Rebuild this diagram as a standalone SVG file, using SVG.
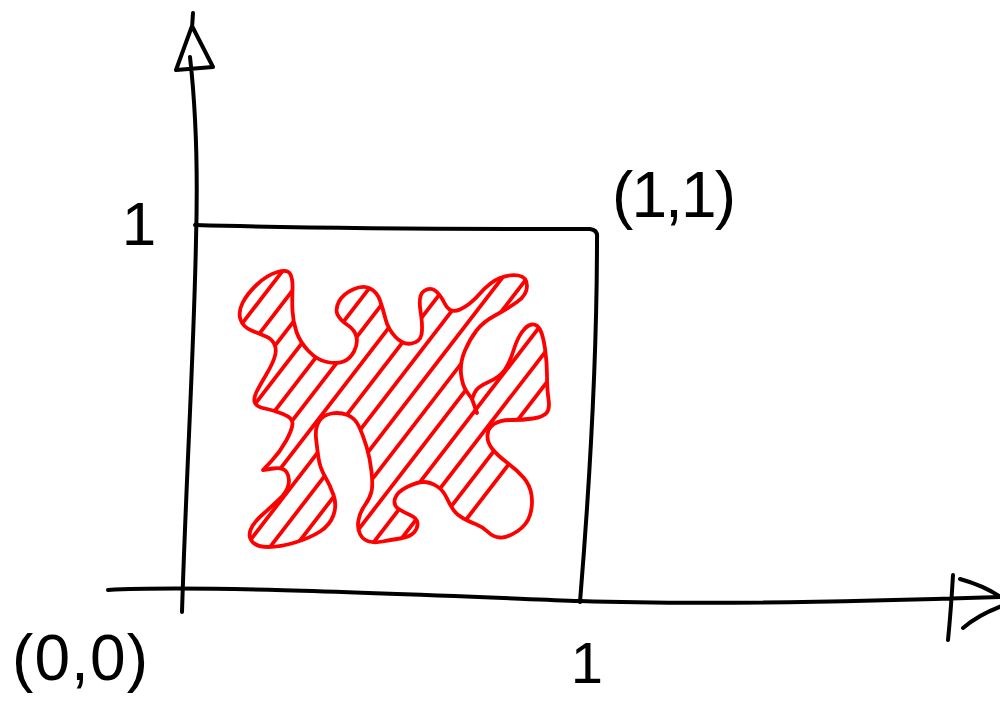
<svg xmlns="http://www.w3.org/2000/svg" xmlns:xlink="http://www.w3.org/1999/xlink" width="1000" height="705" viewBox="0 0 1000 705">
  <style>
    .ink { fill: none; stroke: #000; stroke-width: 4; stroke-linecap: round; stroke-linejoin: round; }
    .red { fill: none; stroke: #ff0000; stroke-width: 3.8; stroke-linecap: round; stroke-linejoin: round; }
    .lbl { font-family: "Liberation Sans", Arial, sans-serif; fill: #000; }
  </style>
  <defs>
    <path id="blob" d="M277.5,272 Q288,269 290.5,274.5 Q293,280 292.5,290 Q292,300 292.5,311 Q293,322 296.5,332 Q300,342 308.5,351 Q317,360 327,362 Q337,364 343.5,361.5 Q350,359 354,351.5 Q358,344 356.5,337 Q355,330 347.5,325 Q340,320 337.5,314.5 Q335,309 339,301.5 Q343,294 353,289.5 Q363,285 370,288.5 Q377,292 380,300.5 Q383,309 385.5,319 Q388,329 395.5,337 Q403,345 411.5,343.5 Q420,342 421.5,334.5 Q423,327 420.5,311 Q418,295 424,291 Q430,287 435,290.5 Q440,294 445,304 Q450,314 460,309.5 Q470,305 480,293.5 Q490,282 500,278 Q510,274 518.5,275.5 Q527,277 527,286 Q527,295 517,302 Q507,309 495,315.5 Q483,322 476.5,330.5 Q470,339 465,350.5 Q460,362 461,373.5 Q462,385 467,392 L472,399 L474.5,393 Q477,387 488.5,382 Q500,377 505,369.5 Q510,362 513.5,350.5 Q517,339 522,332 Q527,325 532,324.5 Q537,324 540,329.5 Q543,335 545,348.5 Q547,362 547,375.5 Q547,389 548.5,399 Q550,409 546.5,413 Q543,417 533,418.5 Q523,420 511.5,420 Q500,420 494,424 Q488,428 487.5,435 Q487,442 492,448.5 Q497,455 507,462.5 Q517,470 523.5,477.5 Q530,485 531.5,495 Q533,505 530,515 Q527,525 517,531.5 Q507,538 500,537.5 Q493,537 488,532 Q483,527 476.5,524.5 Q470,522 463.5,518.5 Q457,515 453.5,510 Q450,505 446.5,497.5 Q443,490 436.5,486 Q430,482 423.5,482 Q417,482 407,487 Q397,492 395,498.5 Q393,505 398,508.5 Q403,512 410,515 Q417,518 417.5,523 Q418,528 414,532.5 Q410,537 400,538.5 Q390,540 382.5,541.5 Q375,543 369,541.5 Q363,540 360,534 Q357,528 358.5,520 Q360,512 365,505 Q370,498 371.5,491.5 Q373,485 371.5,471.5 Q370,458 366.5,446.5 Q363,435 359,426.5 Q355,418 347.5,415 Q340,412 331.5,413.5 Q323,415 319,421.5 Q315,428 316,438 Q317,448 318.5,458 Q320,468 325,476.5 Q330,485 333.5,495 Q337,505 333.5,515 Q330,525 320,531.5 Q310,538 295,542.5 Q280,547 268.5,547 Q257,547 252.5,542 Q248,537 250.5,530 Q253,523 261.5,515.5 Q270,508 278.5,500 Q287,492 288.5,484.5 Q290,477 286.5,472 Q283,467 273,468.5 L263,470 L271.5,461 Q280,452 286,441 Q292,430 292.5,424 Q293,418 283,414 Q273,410 265,408.5 Q257,407 255,403 Q253,399 256.5,392 Q260,385 266,375 Q272,365 274.5,357.5 Q277,350 274.5,344.5 Q272,339 266,336.5 Q260,334 251.5,330.5 Q243,327 240.5,319.5 Q238,312 242.5,303 Q247,294 257,284.5 Q267,275 277.5,272 Z"/>
    <clipPath id="blobClip">
      <use xlink:href="#blob"/>
    </clipPath>
  </defs>

  <g id="axes">
    <path id="y-axis" class="ink" d="M193,13 L192,28 M192,26 L176,70 L213,67 L192,26 M190,57 C196,110 198,170 196,240 C194,350 186,480 182,612"/>
    <path id="x-axis" class="ink" d="M108,590 C200,585 400,594 580,601 C700,605 850,602 1000,597 M953,575 Q951,610 948,640 M960,579 Q985,586 1002,598 M1002,606 Q978,615 963,628"/>
  </g>

  <g id="square">
    <path class="ink" d="M195,225 C300,228 450,229 590,229 Q598,230 597,238 C597,350 590,480 580,602"/>
  </g>

  <g id="region">
    <g class="red" clip-path="url(#blobClip)">
      <path d="M35,560 L266,260 M60,560 L291,260 M85,560 L316,260 M110,560 L341,260 M135,560 L366,260 M160,560 L391,260 M185,560 L416,260 M210,560 L441,260 M235,560 L466,260 M260,560 L491,260 M285,560 L516,260 M310,560 L541,260 M335,560 L566,260 M360,560 L591,260 M385,560 L616,260 M410,560 L641,260 M435,560 L666,260"/>
    </g>
    <use class="red" xlink:href="#blob"/>
    <path class="red" d="M472,399 L477,413"/>
  </g>

  <g id="labels">
    <text class="lbl" x="139" y="245" font-size="62" text-anchor="middle">1</text>
    <text class="lbl" x="587" y="683" font-size="58" text-anchor="middle">1</text>
    <text class="lbl" x="612" y="217" font-size="64" textLength="124" lengthAdjust="spacing">(1,1)</text>
    <text class="lbl" x="12" y="680" font-size="64" textLength="136" lengthAdjust="spacing">(0,0)</text>
  </g>
</svg>
